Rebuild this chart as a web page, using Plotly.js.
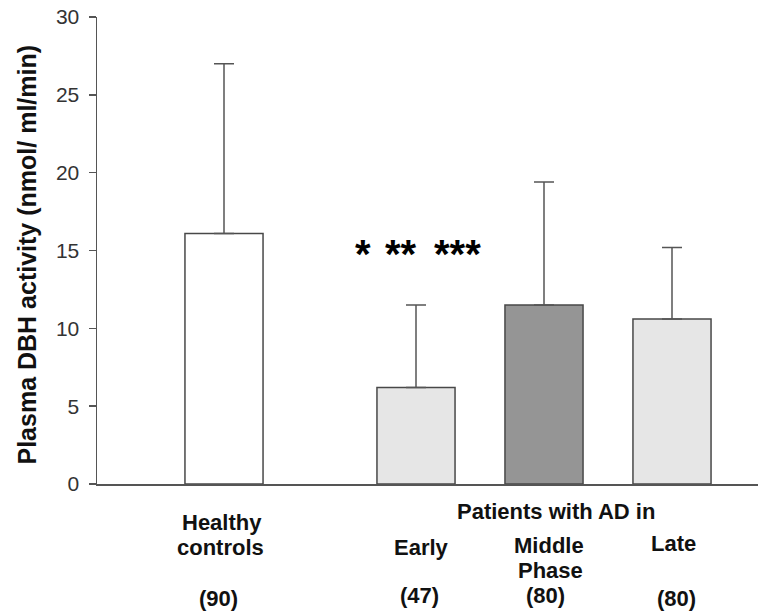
<!DOCTYPE html>
<html>
<head>
<meta charset="utf-8">
<script src="https://cdn.plot.ly/plotly-3.0.1.min.js"></script>
<style>html,body{margin:0;padding:0;background:#fff;}#chart{width:758px;height:614px;}</style>
</head>
<body>
<div id="chart"></div>
<script>
// Data
var groups = ["Healthy controls", "Early", "Middle Phase", "Late"];
var groupX = [0, 1.5, 2.5, 3.5];           // group positions (gap before AD groups)
var meanValues = [16.1, 6.2, 11.5, 10.6];
var upperErrorTop = [27.0, 11.5, 19.4, 15.2];
var sampleSizes = [90, 47, 80, 80];
var barColors = ["#ffffff", "#e6e6e6", "#959595", "#e6e6e6"];
var significance = ["*", "**", "***"];
var yTicks = [0, 5, 10, 15, 20, 25, 30];

var errPlus = meanValues.map(function (v, i) { return +(upperErrorTop[i] - v).toFixed(2); });
var errMinus = meanValues.map(function () { return 0; });

var FONT = "Liberation Sans, Arial, Helvetica, sans-serif";

var trace = {
  type: "bar",
  x: groupX,
  y: meanValues,
  width: 0.61,
  marker: { color: barColors, line: { color: "#484848", width: 1.5 } },
  error_y: {
    type: "data", symmetric: false, array: errPlus, arrayminus: errMinus,
    color: "#555555", thickness: 1.5, width: 10
  },
  hoverinfo: "none"
};

function px2x(p) { return (p - 224) / 128; }
function lab(text, px, py, size) {
  return {
    text: "<b>" + text + "</b>", x: px2x(px), xref: "x", y: (484 - py) / 467, yref: "paper",
    xanchor: "center", yanchor: "middle", showarrow: false,
    font: { family: FONT, size: size || 22, color: "#111" }
  };
}

var annotations = [
  lab("Healthy", 222, 522),
  lab("controls", 220, 547),
  lab("(" + sampleSizes[0] + ")", 218, 598),
  lab("Patients with AD in", 556, 511),
  lab("Early", 421, 547),
  lab("Middle", 549, 545),
  lab("Phase", 550, 570),
  lab("Late", 673, 543),
  lab("(" + sampleSizes[1] + ")", 419, 595),
  lab("(" + sampleSizes[2] + ")", 545, 595),
  lab("(" + sampleSizes[3] + ")", 676, 598),
  {
    text: "<b>Plasma DBH activity (nmol/ ml/min)</b>", textangle: -90,
    x: (26.5 - 97) / 661, xref: "paper", y: (484 - 255) / 467, yref: "paper",
    xanchor: "center", yanchor: "middle", showarrow: false,
    font: { family: FONT, size: 25, color: "#111" }
  }
];
var starPx = [362.5, 401, 457];
significance.forEach(function (s, i) {
  annotations.push({
    text: "<b>" + s + "</b>", x: px2x(starPx[i]), xref: "x", y: 14.8, yref: "y",
    xanchor: "center", yanchor: "middle", showarrow: false,
    font: { family: FONT, size: 40, color: "#000" }
  });
});

var layout = {
  width: 758, height: 614,
  margin: { l: 97, r: 0, t: 17, b: 130, pad: 0 },
  paper_bgcolor: "#ffffff", plot_bgcolor: "#ffffff",
  showlegend: false,
  xaxis: {
    range: [px2x(97), px2x(758)],
    showticklabels: false, ticks: "", showgrid: false, zeroline: false,
    showline: true, linecolor: "#555555", linewidth: 1.5, fixedrange: true
  },
  yaxis: {
    range: [0, 30], tickvals: yTicks, ticktext: yTicks.map(String),
    ticks: "outside", ticklen: 7, tickcolor: "#555555", tickwidth: 1.5,
    ticklabelstandoff: 5,
    showgrid: false, zeroline: false, showline: true, linecolor: "#555555", linewidth: 1.5,
    tickfont: { family: FONT, size: 21, color: "#333333" },
    fixedrange: true
  },
  annotations: annotations
};

Plotly.newPlot("chart", [trace], layout, { displayModeBar: false, staticPlot: true });
</script>
</body>
</html>
